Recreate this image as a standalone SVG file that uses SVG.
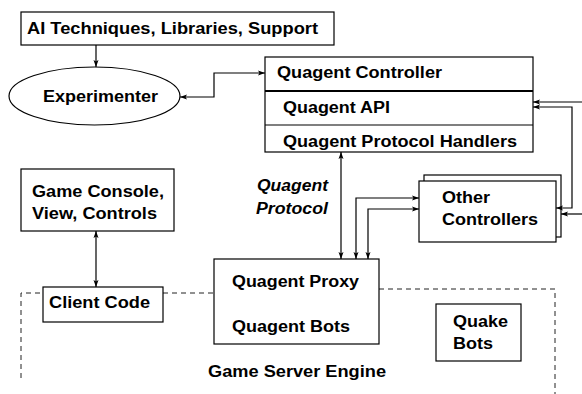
<svg xmlns="http://www.w3.org/2000/svg" width="582" height="394" viewBox="0 0 582 394">
<defs>
<style>
.box{fill:#fff;stroke:#000;stroke-width:1.2}
.t{font-family:"Liberation Sans",Arial,sans-serif;font-weight:bold;font-size:16px;fill:#000}
.ti{font-family:"Liberation Sans",Arial,sans-serif;font-weight:bold;font-style:italic;font-size:16px;fill:#000}
.c{fill:none;stroke:#000;stroke-width:1.2}
.dash{fill:none;stroke:#222;stroke-width:1;stroke-dasharray:5,4}
</style>
<marker id="ah" markerUnits="userSpaceOnUse" markerWidth="8" markerHeight="6" refX="7" refY="3" orient="auto-start-reverse">
<path d="M0,0.5 L7,3 L0,5.5 L1.5,3 z" fill="#000"/>
</marker>
</defs>
<rect width="582" height="394" fill="#fff"/>

<g id="ai-box">
<rect class="box" x="21" y="12" width="313" height="33"/>
<text class="t" x="27" y="34" textLength="291" lengthAdjust="spacingAndGlyphs">AI Techniques, Libraries, Support</text>
</g>

<g id="experimenter">
<ellipse class="box" cx="94.5" cy="96" rx="85.5" ry="29"/>
<text class="t" x="43" y="102" textLength="115" lengthAdjust="spacingAndGlyphs">Experimenter</text>
</g>

<g id="controller">
<rect class="box" x="265" y="57" width="268" height="95"/>
<line x1="265" y1="91" x2="533" y2="91" stroke="#000" stroke-width="2"/>
<line x1="265" y1="125" x2="533" y2="125" stroke="#000" stroke-width="1.2"/>
<text class="t" x="277" y="78" textLength="165" lengthAdjust="spacingAndGlyphs">Quagent Controller</text>
<text class="t" x="283" y="113" textLength="107" lengthAdjust="spacingAndGlyphs">Quagent API</text>
<text class="t" x="283" y="147" textLength="234" lengthAdjust="spacingAndGlyphs">Quagent Protocol Handlers</text>
</g>

<g id="other-controllers">
<rect class="box" x="424" y="175" width="137" height="62"/>
<rect class="box" x="419" y="181" width="137" height="61"/>
<text class="t" x="442" y="203" textLength="48" lengthAdjust="spacingAndGlyphs">Other</text>
<text class="t" x="442" y="225" textLength="96" lengthAdjust="spacingAndGlyphs">Controllers</text>
</g>

<g id="protocol-label">
<text class="ti" x="257" y="191" textLength="71" lengthAdjust="spacingAndGlyphs">Quagent</text>
<text class="ti" x="256" y="214" textLength="72" lengthAdjust="spacingAndGlyphs">Protocol</text>
</g>

<g id="game-console">
<rect class="box" x="21" y="169" width="153" height="62"/>
<text class="t" x="32" y="197" textLength="132" lengthAdjust="spacingAndGlyphs">Game Console,</text>
<text class="t" x="32" y="219" textLength="125" lengthAdjust="spacingAndGlyphs">View, Controls</text>
</g>

<g id="server-boundary">
<path class="dash" d="M21,378 V293 H43"/>
<path class="dash" d="M163,293 H214"/>
<path class="dash" d="M379,289 H555 V394"/>
<text class="t" x="208" y="377" textLength="178" lengthAdjust="spacingAndGlyphs">Game Server Engine</text>
</g>

<g id="client-code">
<rect class="box" x="43" y="287" width="120" height="35"/>
<text class="t" x="49" y="308" textLength="101" lengthAdjust="spacingAndGlyphs">Client Code</text>
</g>

<g id="proxy">
<rect class="box" x="214" y="259" width="165" height="85"/>
<text class="t" x="232" y="287" textLength="127" lengthAdjust="spacingAndGlyphs">Quagent Proxy</text>
<text class="t" x="232" y="332" textLength="118" lengthAdjust="spacingAndGlyphs">Quagent Bots</text>
</g>

<g id="quake-bots">
<rect class="box" x="436" y="304" width="85" height="57"/>
<text class="t" x="453" y="327" textLength="55" lengthAdjust="spacingAndGlyphs">Quake</text>
<text class="t" x="453" y="349" textLength="40" lengthAdjust="spacingAndGlyphs">Bots</text>
</g>

<g id="connectors">
<path class="c" d="M96,45 V67" marker-end="url(#ah)"/>
<path class="c" d="M180,97 H214 V73 H265" marker-start="url(#ah)" marker-end="url(#ah)"/>
<path class="c" d="M582,102 H533" marker-end="url(#ah)"/>
<path class="c" d="M533,107 H572 V208 H556" marker-start="url(#ah)" marker-end="url(#ah)"/>
<path class="c" d="M582,214 H561" marker-end="url(#ah)"/>
<path class="c" d="M341,152 V259" marker-start="url(#ah)" marker-end="url(#ah)"/>
<path class="c" d="M419,198 H356 V259" marker-start="url(#ah)" marker-end="url(#ah)"/>
<path class="c" d="M419,209 H368 V259" marker-start="url(#ah)" marker-end="url(#ah)"/>
<path class="c" d="M96,231 V287" marker-start="url(#ah)" marker-end="url(#ah)"/>
</g>
</svg>
